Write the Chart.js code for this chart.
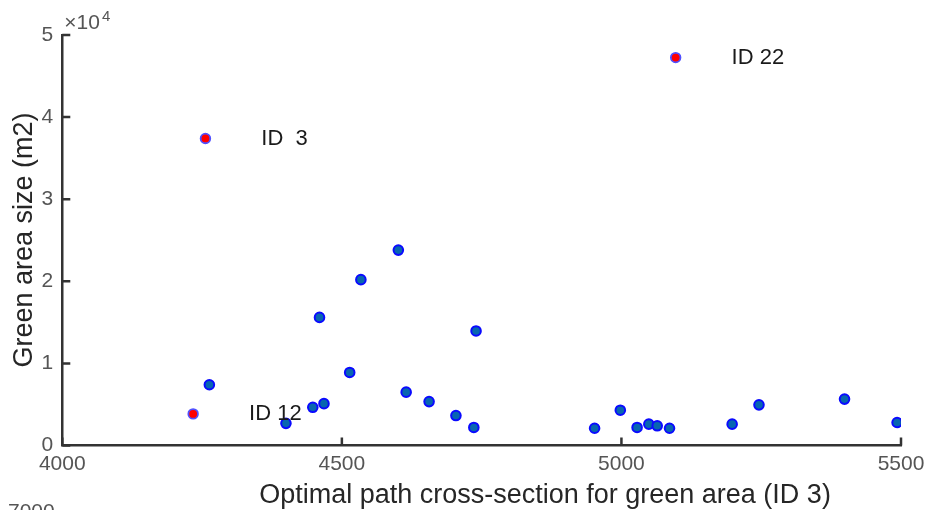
<!DOCTYPE html>
<html>
<head>
<meta charset="utf-8">
<script src="https://cdn.jsdelivr.net/npm/chart.js@4"></script>
<style>
html,body{margin:0;padding:0;background:#fff;}
#wrap{width:931px;height:510px;position:relative;}
</style>
</head>
<body>
<div id="wrap"><canvas id="c" width="931" height="510"></canvas></div>
<script>
// ---- data ----
const xTicks = [4000, 4500, 5000, 5500];
const yTicks = [0, 10000, 20000, 30000, 40000, 50000];
const blueX = [4263, 4400, 4448, 4468, 4460, 4514, 4534, 4601, 4615, 4656, 4704, 4736, 4740, 4952, 4998, 5028, 5049, 5064, 5086, 5198, 5246, 5399, 5493];
const blueY = [7400, 2700, 4650, 5100, 15600, 8900, 20200, 23800, 6500, 5350, 3650, 2200, 13950, 2100, 4300, 2200, 2600, 2400, 2100, 2600, 4950, 5650, 2800];
const redX = [4256, 5097, 4234];
const redY = [37400, 47250, 3850];
const redLabels = ['ID  3', 'ID 22', 'ID 12'];
const xTitle = 'Optimal path cross-section for green area (ID 3)';
const yTitle = 'Green area size (m2)';
const labelShiftX = 100; // label placed this many x-units right of its point

const FONT = '"Liberation Sans", Helvetica, Arial, sans-serif';

const bluePts = blueX.map((x, i) => ({x: x, y: blueY[i]}));
const redPts = redX.map((x, i) => ({x: x, y: redY[i]}));

const decor = {
  id: 'decor',
  afterDraw(chart) {
    const ctx = chart.ctx;
    const xs = chart.scales.x, ys = chart.scales.y;
    const ca = chart.chartArea;
    ctx.save();
    // inward tick marks
    ctx.strokeStyle = '#333';
    ctx.lineWidth = 2.5;
    ctx.beginPath();
    xTicks.forEach(v => {
      const px = xs.getPixelForValue(v);
      ctx.moveTo(px, ca.bottom);
      ctx.lineTo(px, ca.bottom - 8);
    });
    yTicks.forEach(v => {
      const py = ys.getPixelForValue(v);
      ctx.moveTo(ca.left, py);
      ctx.lineTo(ca.left + 8, py);
    });
    ctx.stroke();

    // exponent label
    ctx.fillStyle = '#555';
    ctx.textBaseline = 'alphabetic';
    ctx.textAlign = 'left';
    ctx.font = '21px ' + FONT;
    ctx.fillText('\u00d710', ca.left + 2, ca.top - 6);
    const w = ctx.measureText('\u00d710').width;
    ctx.font = '15px ' + FONT;
    ctx.fillText('4', ca.left + 4 + w, ca.top - 14);

    // point labels
    ctx.fillStyle = '#1a1a1a';
    ctx.font = '22px ' + FONT;
    ctx.textBaseline = 'middle';
    redLabels.forEach((t, i) => {
      ctx.fillText(t, xs.getPixelForValue(redX[i] + labelShiftX), ys.getPixelForValue(redY[i]));
    });

    // axis titles
    ctx.fillStyle = '#262626';
    ctx.font = '27px ' + FONT;
    ctx.textAlign = 'center';
    ctx.textBaseline = 'alphabetic';
    ctx.fillText(xTitle, 545, 503);
    ctx.save();
    ctx.translate(32, 240);
    ctx.rotate(-Math.PI / 2);
    ctx.fillText(yTitle, 0, 0);
    ctx.restore();

    // clipped stray label at bottom-left
    ctx.fillStyle = '#555';
    ctx.font = '21px ' + FONT;
    ctx.textAlign = 'left';
    ctx.fillText('7000', 8, 518);
    ctx.restore();
  }
};

new Chart(document.getElementById('c'), {
  type: 'scatter',
  data: {
    datasets: [
      {data: bluePts, backgroundColor: '#0866b0', borderColor: '#0a0aff', borderWidth: 2, pointRadius: 4.8, pointHoverRadius: 4.8},
      {data: redPts, backgroundColor: '#ff0000', borderColor: '#5050ff', borderWidth: 1.8, pointRadius: 4.8, pointHoverRadius: 4.8}
    ]
  },
  options: {
    responsive: false,
    animation: false,
    events: [],
    layout: {padding: {left: 0, top: 35, right: 30, bottom: 0}},
    plugins: {legend: {display: false}, tooltip: {enabled: false}},
    scales: {
      x: {
        type: 'linear', min: 4000, max: 5500,
        afterBuildTicks: s => { s.ticks = xTicks.map(v => ({value: v})); },
        afterFit: s => { s.height = 64.5; },
        grid: {display: false, drawTicks: false},
        border: {display: true, color: '#333', width: 2.5},
        ticks: {color: '#555', font: {family: FONT, size: 21}, padding: 6, maxRotation: 0, autoSkip: false,
                callback: v => String(v)}
      },
      y: {
        type: 'linear', min: 0, max: 50000,
        afterBuildTicks: s => { s.ticks = yTicks.map(v => ({value: v})); },
        afterFit: s => { s.width = 62.3; },
        grid: {display: false, drawTicks: false},
        border: {display: true, color: '#333', width: 2.5},
        ticks: {color: '#555', font: {family: FONT, size: 21}, padding: 9, autoSkip: false,
                callback: v => String(v / 10000)}
      }
    }
  },
  plugins: [decor]
});
</script>
</body>
</html>
